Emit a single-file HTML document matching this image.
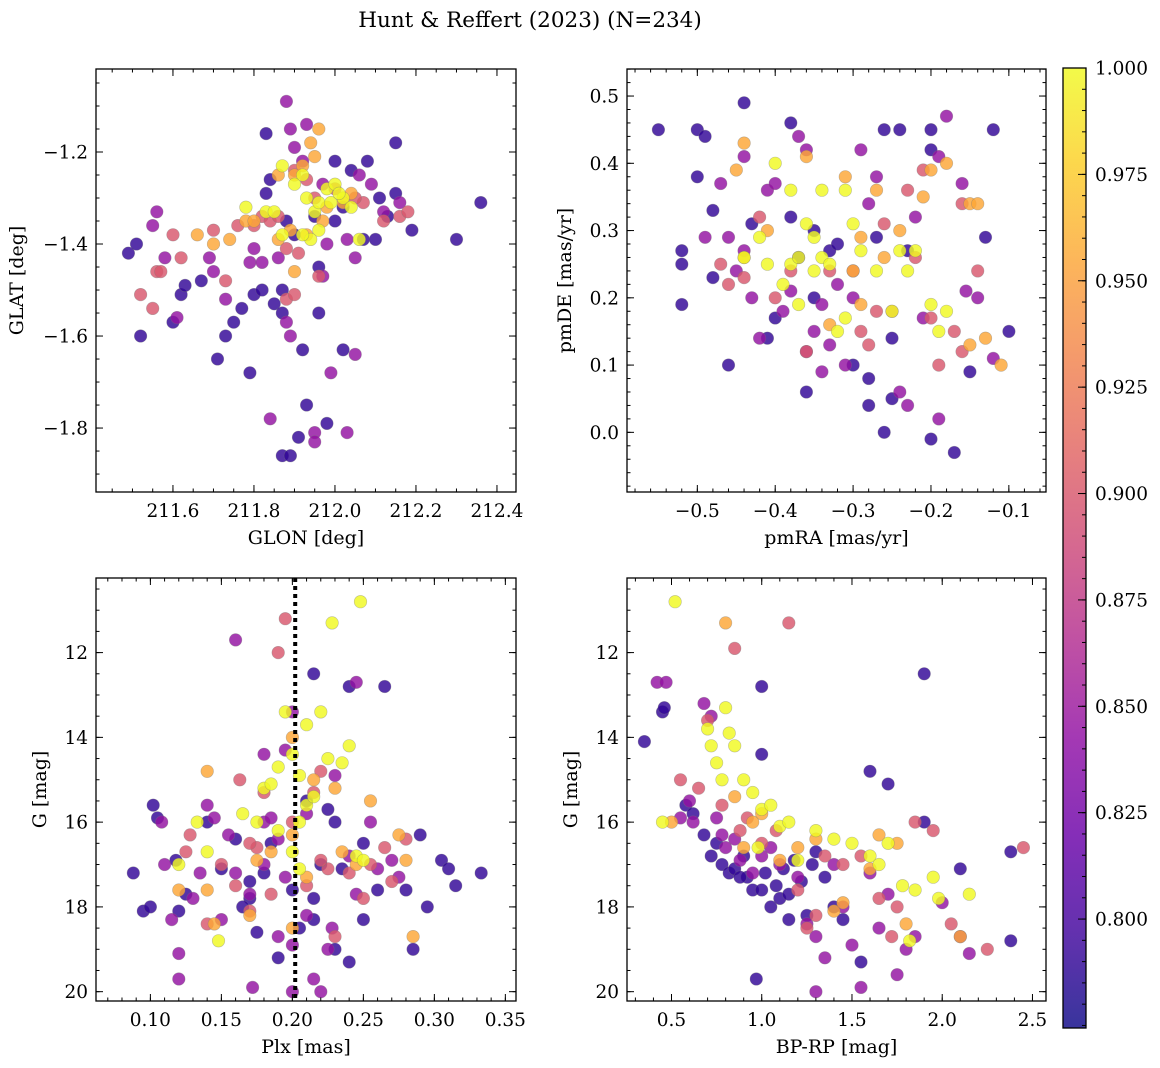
<!DOCTYPE html>
<html><head><meta charset="utf-8">
<style>
html,body{margin:0;padding:0;background:#fff;}
svg{display:block;font-family:"DejaVu Serif","Liberation Serif",serif;}
</style></head>
<body>
<svg id="fig" width="1160" height="1068" viewBox="0 0 1160 1068" xmlns="http://www.w3.org/2000/svg">
<text x="530" y="27" font-size="21.5" text-anchor="middle">Hunt &amp; Reffert (2023) (N=234)</text>
</svg>
<script>
// probability groups (colour value of each group)
const groupProb = [0.79, 0.845, 0.9, 0.955, 1.0];

// Top-left: GLON, GLAT
const tlDark = [[211.49,-1.42],[211.51,-1.40],[211.52,-1.60],[211.60,-1.57],[211.62,-1.51],[211.63,-1.49],[211.67,-1.48],[211.71,-1.65],[211.73,-1.60],[211.75,-1.57],[211.77,-1.54],[211.79,-1.68],[211.80,-1.51],[211.82,-1.50],[211.83,-1.16],[211.85,-1.53],[211.87,-1.55],[211.87,-1.50],[211.92,-1.63],[211.96,-1.45],[211.96,-1.55],[212.02,-1.63],[212.07,-1.39],[212.10,-1.39],[212.13,-1.34],[212.15,-1.29],[212.15,-1.18],[212.19,-1.37],[212.30,-1.39],[212.36,-1.31],[211.84,-1.26],[211.83,-1.29],[211.88,-1.35],[211.90,-1.38],[211.95,-1.34],[212.00,-1.22],[212.04,-1.24],[212.08,-1.22],[212.11,-1.30],[211.87,-1.86],[211.89,-1.86],[211.91,-1.82],[211.93,-1.75],[211.98,-1.79],[212.00,-1.35],[212.02,-1.32]];
const tlPurple = [[211.55,-1.36],[211.56,-1.33],[211.58,-1.43],[211.61,-1.56],[211.69,-1.43],[211.70,-1.46],[211.73,-1.52],[211.79,-1.44],[211.82,-1.44],[211.84,-1.78],[211.88,-1.57],[211.89,-1.60],[211.89,-1.15],[211.90,-1.19],[211.93,-1.14],[211.92,-1.22],[211.95,-1.81],[211.95,-1.83],[212.03,-1.81],[212.05,-1.64],[211.99,-1.68],[211.97,-1.47],[212.05,-1.43],[212.03,-1.39],[212.09,-1.27],[212.12,-1.33],[212.16,-1.31],[211.86,-1.43],[211.80,-1.41],[211.97,-1.27],[212.06,-1.25],[211.98,-1.40],[211.88,-1.09]];
const tlMagenta = [[211.56,-1.46],[211.57,-1.46],[211.52,-1.51],[211.55,-1.54],[211.60,-1.38],[211.62,-1.43],[211.76,-1.36],[211.80,-1.36],[211.82,-1.34],[211.84,-1.35],[211.86,-1.34],[211.88,-1.52],[211.90,-1.51],[211.91,-1.42],[211.88,-1.41],[212.16,-1.34],[212.18,-1.33],[212.12,-1.35],[212.07,-1.31],[211.95,-1.30],[211.93,-1.26],[212.00,-1.28],[212.05,-1.30],[211.90,-1.24],[211.96,-1.47],[211.70,-1.37],[211.73,-1.48]];
const tlOrange = [[211.66,-1.38],[211.70,-1.40],[211.74,-1.39],[211.78,-1.35],[211.80,-1.35],[211.86,-1.39],[211.90,-1.46],[211.93,-1.38],[211.94,-1.18],[211.96,-1.15],[211.95,-1.21],[211.92,-1.23],[211.90,-1.25],[211.98,-1.32],[212.02,-1.31],[212.04,-1.29],[211.97,-1.35],[211.89,-1.37],[211.86,-1.25]];
const tlYellow = [[211.78,-1.32],[211.83,-1.33],[211.85,-1.33],[211.87,-1.38],[211.87,-1.23],[211.90,-1.27],[211.92,-1.25],[211.93,-1.30],[211.95,-1.33],[211.96,-1.37],[211.98,-1.28],[212.00,-1.27],[212.02,-1.30],[212.04,-1.32],[212.06,-1.39],[211.96,-1.31],[211.99,-1.31],[211.94,-1.39],[211.92,-1.38],[212.01,-1.29]];

// Top-right: pmRA, pmDE
const trDark = [[-0.55,0.45],[-0.52,0.27],[-0.52,0.25],[-0.52,0.19],[-0.50,0.38],[-0.50,0.45],[-0.49,0.44],[-0.48,0.23],[-0.48,0.33],[-0.46,0.10],[-0.44,0.49],[-0.43,0.31],[-0.41,0.14],[-0.38,0.46],[-0.38,0.32],[-0.37,0.26],[-0.36,0.06],[-0.35,0.20],[-0.33,0.27],[-0.32,0.28],[-0.30,0.10],[-0.28,0.04],[-0.28,0.08],[-0.27,0.29],[-0.26,0.45],[-0.26,0.00],[-0.25,0.05],[-0.24,0.45],[-0.20,0.45],[-0.20,0.42],[-0.20,-0.01],[-0.17,-0.03],[-0.15,0.09],[-0.13,0.29],[-0.12,0.45],[-0.10,0.15],[-0.23,0.27],[-0.35,0.30],[-0.40,0.17],[-0.25,0.14]];
const trPurple = [[-0.49,0.29],[-0.47,0.37],[-0.46,0.29],[-0.44,0.27],[-0.44,0.41],[-0.42,0.14],[-0.41,0.36],[-0.40,0.37],[-0.39,0.18],[-0.38,0.21],[-0.37,0.44],[-0.36,0.42],[-0.35,0.15],[-0.34,0.09],[-0.33,0.13],[-0.32,0.22],[-0.31,0.10],[-0.29,0.42],[-0.28,0.34],[-0.27,0.38],[-0.24,0.06],[-0.23,0.04],[-0.22,0.32],[-0.21,0.17],[-0.19,0.41],[-0.19,0.02],[-0.18,0.47],[-0.16,0.37],[-0.155,0.21],[-0.14,0.20],[-0.12,0.11],[-0.45,0.24],[-0.43,0.20],[-0.36,0.12],[-0.30,0.20],[-0.34,0.19]];
const trMagenta = [[-0.47,0.25],[-0.46,0.22],[-0.44,0.23],[-0.42,0.32],[-0.40,0.20],[-0.38,0.24],[-0.36,0.12],[-0.30,0.24],[-0.29,0.15],[-0.27,0.18],[-0.26,0.31],[-0.25,0.18],[-0.23,0.36],[-0.22,0.26],[-0.21,0.39],[-0.20,0.17],[-0.19,0.10],[-0.17,0.15],[-0.16,0.12],[-0.14,0.24],[-0.16,0.34],[-0.33,0.24],[-0.28,0.13]];
const trOrange = [[-0.45,0.39],[-0.44,0.43],[-0.41,0.30],[-0.36,0.41],[-0.31,0.38],[-0.30,0.24],[-0.29,0.29],[-0.27,0.36],[-0.26,0.26],[-0.24,0.30],[-0.20,0.39],[-0.18,0.40],[-0.15,0.34],[-0.14,0.34],[-0.13,0.14],[-0.11,0.10],[-0.15,0.13],[-0.33,0.16],[-0.29,0.19],[-0.21,0.35],[-0.44,0.26]];
const trYellow = [[-0.44,0.26],[-0.42,0.29],[-0.41,0.25],[-0.40,0.40],[-0.38,0.25],[-0.37,0.26],[-0.36,0.31],[-0.35,0.29],[-0.34,0.36],[-0.34,0.26],[-0.33,0.25],[-0.31,0.36],[-0.30,0.31],[-0.31,0.17],[-0.29,0.27],[-0.27,0.24],[-0.24,0.27],[-0.23,0.24],[-0.22,0.27],[-0.20,0.19],[-0.19,0.15],[-0.18,0.18],[-0.38,0.36],[-0.32,0.15],[-0.25,0.18],[-0.39,0.22],[-0.37,0.19],[-0.35,0.24]];

// Bottom-left: Plx, G
const blDark = [[0.088,17.2],[0.095,18.1],[0.100,18.0],[0.102,15.6],[0.105,15.9],[0.118,16.9],[0.12,18.1],[0.125,17.7],[0.14,16.0],[0.15,17.1],[0.16,16.4],[0.17,17.4],[0.17,17.8],[0.175,18.6],[0.18,17.2],[0.185,16.5],[0.19,19.2],[0.2,17.6],[0.205,18.5],[0.21,15.5],[0.215,12.5],[0.215,18.3],[0.22,17.0],[0.225,15.7],[0.23,16.0],[0.235,17.1],[0.24,12.8],[0.25,18.3],[0.25,16.5],[0.26,17.6],[0.265,12.8],[0.28,17.6],[0.285,19.0],[0.29,16.3],[0.295,18.0],[0.305,16.9],[0.31,17.1],[0.315,17.5],[0.333,17.2],[0.23,19.0],[0.24,19.3],[0.165,18.0],[0.215,17.8]];
const blPurple = [[0.108,16.0],[0.11,17.0],[0.115,18.3],[0.12,19.7],[0.12,19.1],[0.13,17.8],[0.135,17.2],[0.14,15.6],[0.145,15.9],[0.15,18.3],[0.155,16.3],[0.16,11.7],[0.16,17.2],[0.17,17.7],[0.172,19.9],[0.18,14.4],[0.18,16.0],[0.19,18.7],[0.195,14.3],[0.2,20.0],[0.2,13.4],[0.21,15.8],[0.215,19.7],[0.22,20.0],[0.225,19.0],[0.228,18.5],[0.23,14.9],[0.24,16.8],[0.245,12.7],[0.245,17.7],[0.255,16.0],[0.26,17.1],[0.27,16.9],[0.275,17.3],[0.18,17.0],[0.19,16.4],[0.2,18.9],[0.21,18.2],[0.185,15.9],[0.195,17.3]];
const blMagenta = [[0.125,16.7],[0.128,16.3],[0.14,18.4],[0.15,17.0],[0.16,17.5],[0.163,15.0],[0.17,18.1],[0.175,16.6],[0.18,15.3],[0.185,17.7],[0.19,12.0],[0.195,11.2],[0.2,16.0],[0.21,17.5],[0.215,15.3],[0.22,14.8],[0.225,17.1],[0.23,18.7],[0.24,17.2],[0.25,17.8],[0.255,17.0],[0.265,16.6],[0.27,17.4],[0.28,16.4],[0.17,16.5],[0.22,16.9]];
const blOrange = [[0.12,17.6],[0.14,14.8],[0.145,18.4],[0.17,18.2],[0.175,16.9],[0.185,16.7],[0.2,16.3],[0.2,18.5],[0.21,17.3],[0.215,15.0],[0.235,16.7],[0.245,17.0],[0.255,15.5],[0.275,16.3],[0.28,16.9],[0.285,18.7],[0.2,14.0],[0.14,17.6],[0.23,15.2]];
const blYellow = [[0.12,17.0],[0.133,16.0],[0.14,16.7],[0.148,18.8],[0.165,15.8],[0.18,15.2],[0.185,15.1],[0.19,14.7],[0.195,13.4],[0.2,14.4],[0.205,14.9],[0.205,16.0],[0.21,15.6],[0.215,15.4],[0.22,13.4],[0.225,14.5],[0.228,11.3],[0.235,14.6],[0.24,14.2],[0.245,16.8],[0.248,10.8],[0.25,16.9],[0.2,16.7],[0.19,16.2],[0.175,16.0],[0.205,17.1],[0.21,13.7]];

// Bottom-right: BP-RP, G
const brDark = [[0.35,14.1],[0.45,13.4],[0.46,13.3],[0.58,15.6],[0.62,15.8],[0.68,16.3],[0.72,16.8],[0.75,16.5],[0.78,17.0],[0.82,17.2],[0.85,17.1],[0.9,16.8],[0.92,17.3],[0.95,17.6],[0.97,19.7],[1.0,12.8],[1.0,14.4],[1.02,17.2],[1.05,18.0],[1.08,17.5],[1.1,17.8],[1.12,17.1],[1.15,17.7],[1.18,16.9],[1.22,17.4],[1.25,18.2],[1.28,17.0],[1.3,16.7],[1.35,17.3],[1.4,18.0],[1.45,18.3],[1.55,19.3],[1.6,14.8],[1.7,15.1],[1.9,12.5],[1.9,16.0],[2.1,17.1],[2.38,16.7],[2.38,18.8],[1.0,17.6],[0.88,17.3],[1.15,18.3]];
const brPurple = [[0.42,12.7],[0.47,12.7],[0.55,15.9],[0.6,15.5],[0.62,16.0],[0.68,13.2],[0.72,13.5],[0.75,15.9],[0.8,16.6],[0.85,16.4],[0.88,16.9],[0.95,17.2],[1.0,16.8],[1.05,16.6],[1.1,17.0],[1.2,17.3],[1.25,18.4],[1.3,18.7],[1.35,19.2],[1.45,18.0],[1.5,18.9],[1.6,17.2],[1.65,18.5],[1.75,19.6],[1.8,19.0],[1.85,18.7],[2.0,17.9],[2.1,18.7],[2.15,19.1],[1.4,17.0],[0.78,16.3],[1.7,17.7],[1.3,20.0],[1.55,19.9]];
const brMagenta = [[0.55,15.0],[0.65,15.2],[0.7,13.6],[0.78,15.6],[0.85,11.9],[0.88,16.2],[0.92,15.9],[1.0,16.5],[1.08,16.2],[1.15,11.3],[1.2,17.6],[1.25,18.5],[1.3,18.2],[1.35,16.8],[1.45,17.0],[1.55,16.8],[1.65,17.8],[1.75,18.0],[1.85,16.0],[1.95,16.2],[2.05,18.4],[2.25,19.0],[2.45,16.6],[1.72,18.7]];
const brOrange = [[0.5,16.0],[0.8,11.3],[0.85,15.4],[0.9,16.6],[1.0,15.8],[1.1,16.9],[1.3,16.4],[1.4,18.1],[1.45,17.9],[1.6,17.1],[1.65,16.3],[1.75,16.5],[1.8,18.4],[2.1,18.7],[1.2,16.6],[0.95,16.0]];
const brYellow = [[0.45,16.0],[0.52,10.8],[0.7,13.8],[0.72,14.2],[0.75,14.6],[0.78,15.0],[0.82,13.9],[0.85,14.2],[0.9,15.0],[0.95,15.3],[1.0,15.7],[1.05,15.6],[1.1,16.1],[1.15,16.0],[1.3,16.2],[1.4,16.4],[1.5,16.5],[1.6,16.8],[1.65,17.0],[1.7,16.5],[1.78,17.5],[1.85,17.6],[1.95,17.3],[1.98,17.8],[2.15,17.7],[1.82,18.8],[0.98,16.6],[1.2,16.9],[0.8,13.3]];

const tlTicksX = [211.6,211.8,212.0,212.2,212.4];
const tlTicksY = [-1.2,-1.4,-1.6,-1.8];
const trTicksX = [-0.5,-0.4,-0.3,-0.2,-0.1];
const trTicksY = [0.0,0.1,0.2,0.3,0.4,0.5];
const blTicksX = [0.10,0.15,0.20,0.25,0.30,0.35];
const gTicks = [12,14,16,18,20];
const brTicksX = [0.5,1.0,1.5,2.0,2.5];
const cbTicks = [0.800,0.825,0.850,0.875,0.900,0.925,0.950,0.975,1.000];
const plxLine = 0.202;

const NS = "http://www.w3.org/2000/svg";
const svg = document.getElementById('fig');
function mk(tag, attrs, parent){const e=document.createElementNS(NS,tag);for(const k in attrs)e.setAttribute(k,attrs[k]);(parent||svg).appendChild(e);return e;}

const plasma=[[13,8,135],[65,4,157],[106,0,168],[143,13,164],[177,42,144],[204,71,120],[225,100,98],[242,132,75],[252,166,54],[252,206,37],[240,249,33]];
const cMin=0.7744,cMax=1.0;
function cmap(v){let t=(v-cMin)/(cMax-cMin);t=Math.max(0,Math.min(1,t));const f=t*10,i=Math.min(9,Math.floor(f)),r=f-i;const a=plasma[i],b=plasma[i+1];return `rgb(${Math.round(a[0]+(b[0]-a[0])*r)},${Math.round(a[1]+(b[1]-a[1])*r)},${Math.round(a[2]+(b[2]-a[2])*r)})`;}

function fmt(v,d){return (v<0?'\u2212':'')+Math.abs(v).toFixed(d);}

const TF=18.5, AF=19;
function panel(o){
  const g=mk('g',{});
  
  
  const sx=v=>o.L+(v-o.x0)/(o.x1-o.x0)*(o.R-o.L);
  const sy=v=>o.T+(v-o.y0)/(o.y1-o.y0)*(o.B-o.T);
  const clipId=o.name+'-clip';
  const cp=mk('clipPath',{id:clipId},g);mk('rect',{x:o.L,y:o.T,width:o.R-o.L,height:o.B-o.T},cp);
  const pts=mk('g',{'clip-path':`url(#${clipId})`},g);
  o.groups.forEach((grp,gi)=>{
    const col=cmap(groupProb[gi]);
    grp.forEach(p=>{
      const c=mk('circle',{cx:sx(p[0]).toFixed(1),cy:sy(p[1]).toFixed(1),r:6.3,fill:col,'fill-opacity':0.82,stroke:'#777','stroke-opacity':0.45,'stroke-width':0.6},pts);
      
      
    });
  });
  if(o.vline!==undefined){
    const l=mk('line',{x1:sx(o.vline),x2:sx(o.vline),y1:o.T,y2:o.B,stroke:'#000','stroke-width':4,'stroke-dasharray':'4,4'},g);
    
    
  }
  const tk=(v0,v1,step)=>{const a=[];const s=Math.ceil(v0/step-1e-6);for(let k=s;k*step<=v1+1e-9;k++)a.push(k*step);return a;};
  const xmin=Math.min(o.x0,o.x1),xmax=Math.max(o.x0,o.x1),ymin=Math.min(o.y0,o.y1),ymax=Math.max(o.y0,o.y1);
  tk(xmin,xmax,o.xminor).forEach(v=>{const x=sx(v);mk('line',{x1:x,x2:x,y1:o.B,y2:o.B-3.5,stroke:'#000','stroke-width':1},g);mk('line',{x1:x,x2:x,y1:o.T,y2:o.T+3.5,stroke:'#000','stroke-width':1},g);});
  tk(ymin,ymax,o.yminor).forEach(v=>{const y=sy(v);mk('line',{x1:o.L,x2:o.L+3.5,y1:y,y2:y,stroke:'#000','stroke-width':1},g);mk('line',{x1:o.R,x2:o.R-3.5,y1:y,y2:y,stroke:'#000','stroke-width':1},g);});
  o.xt.forEach(v=>{const x=sx(v);mk('line',{x1:x,x2:x,y1:o.B,y2:o.B-7,stroke:'#000','stroke-width':1},g);mk('line',{x1:x,x2:x,y1:o.T,y2:o.T+7,stroke:'#000','stroke-width':1},g);
    const t=mk('text',{x:x,y:o.B+25,'font-size':TF,'text-anchor':'middle'},g);t.textContent=fmt(v,o.xd);
    });
  o.yt.forEach(v=>{const y=sy(v);mk('line',{x1:o.L,x2:o.L+7,y1:y,y2:y,stroke:'#000','stroke-width':1},g);mk('line',{x1:o.R,x2:o.R-7,y1:y,y2:y,stroke:'#000','stroke-width':1},g);
    const t=mk('text',{x:o.L-8,y:y+6.5,'font-size':TF,'text-anchor':'end'},g);t.textContent=fmt(v,o.yd);
    });
  const fr=mk('rect',{x:o.L,y:o.T,width:o.R-o.L,height:o.B-o.T,fill:'none',stroke:'#000','stroke-width':1.3},g);
  
  const xl=mk('text',{x:(o.L+o.R)/2,y:o.B+52,'font-size':AF,'text-anchor':'middle'},g);xl.textContent=o.xlab;
  
  const yx=o.ylx,yy=(o.T+o.B)/2;
  const yl=mk('text',{x:yx,y:yy,'font-size':AF,'text-anchor':'middle',transform:`rotate(-90 ${yx} ${yy})`},g);yl.textContent=o.ylab;
  
}

panel({name:'glon-glat-panel',L:96,R:516,T:69,B:492,x0:211.41,x1:212.447,y0:-1.0196,y1:-1.939,xt:tlTicksX,yt:tlTicksY,xminor:0.05,yminor:0.05,xd:1,yd:1,xlab:'GLON [deg]',ylab:'GLAT [deg]',ylx:23,groups:[tlDark,tlPurple,tlMagenta,tlOrange,tlYellow]});
panel({name:'proper-motion-panel',L:627,R:1046,T:69,B:492,x0:-0.5903,x1:-0.0523,y0:0.5402,y1:-0.0887,xt:trTicksX,yt:trTicksY,xminor:0.02,yminor:0.02,xd:1,yd:1,xlab:'pmRA [mas/yr]',ylab:'pmDE [mas/yr]',ylx:571,groups:[trDark,trPurple,trMagenta,trOrange,trYellow]});
panel({name:'parallax-mag-panel',L:96,R:516,T:578,B:1001,x0:0.0617,x1:0.3575,y0:10.24,y1:20.22,xt:blTicksX,yt:gTicks,xminor:0.01,yminor:0.5,xd:2,yd:0,xlab:'Plx [mas]',ylab:'G [mag]',ylx:46,vline:plxLine,groups:[blDark,blPurple,blMagenta,blOrange,blYellow]});
panel({name:'cmd-panel',L:627,R:1046,T:578,B:1001,x0:0.2535,x1:2.575,y0:10.24,y1:20.22,xt:brTicksX,yt:gTicks,xminor:0.1,yminor:0.5,xd:1,yd:0,xlab:'BP-RP [mag]',ylab:'G [mag]',ylx:577,groups:[brDark,brPurple,brMagenta,brOrange,brYellow]});

// colorbar
(function(){
  const L=1063,R=1086,T=68,B=1028;
  const g=mk('g',{});
  
  
  const defs=mk('defs',{},g);
  const lg=mk('linearGradient',{id:'cbgrad',x1:0,y1:1,x2:0,y2:0},defs);
  for(let i=0;i<=20;i++){const v=cMin+(cMax-cMin)*i/20;mk('stop',{offset:i/20,'stop-color':cmap(v),'stop-opacity':0.82},lg);}
  mk('rect',{x:L,y:T,width:R-L,height:B-T,fill:'url(#cbgrad)'},g);
  const sy=v=>B-(v-cMin)/(cMax-cMin)*(B-T);
  for(let k=Math.ceil(cMin/0.005);k*0.005<=cMax+1e-9;k++){const y=sy(k*0.005);mk('line',{x1:R,x2:R-4,y1:y,y2:y,stroke:'#000','stroke-width':1},g);}
  cbTicks.forEach(v=>{const y=sy(v);mk('line',{x1:R,x2:R-8,y1:y,y2:y,stroke:'#000','stroke-width':1},g);
    const t=mk('text',{x:R+9,y:y+6.5,'font-size':TF},g);t.textContent=v.toFixed(3);
    });
  mk('rect',{x:L,y:T,width:R-L,height:B-T,fill:'none',stroke:'#000','stroke-width':1.3},g);
})();
</script>
</body></html>
